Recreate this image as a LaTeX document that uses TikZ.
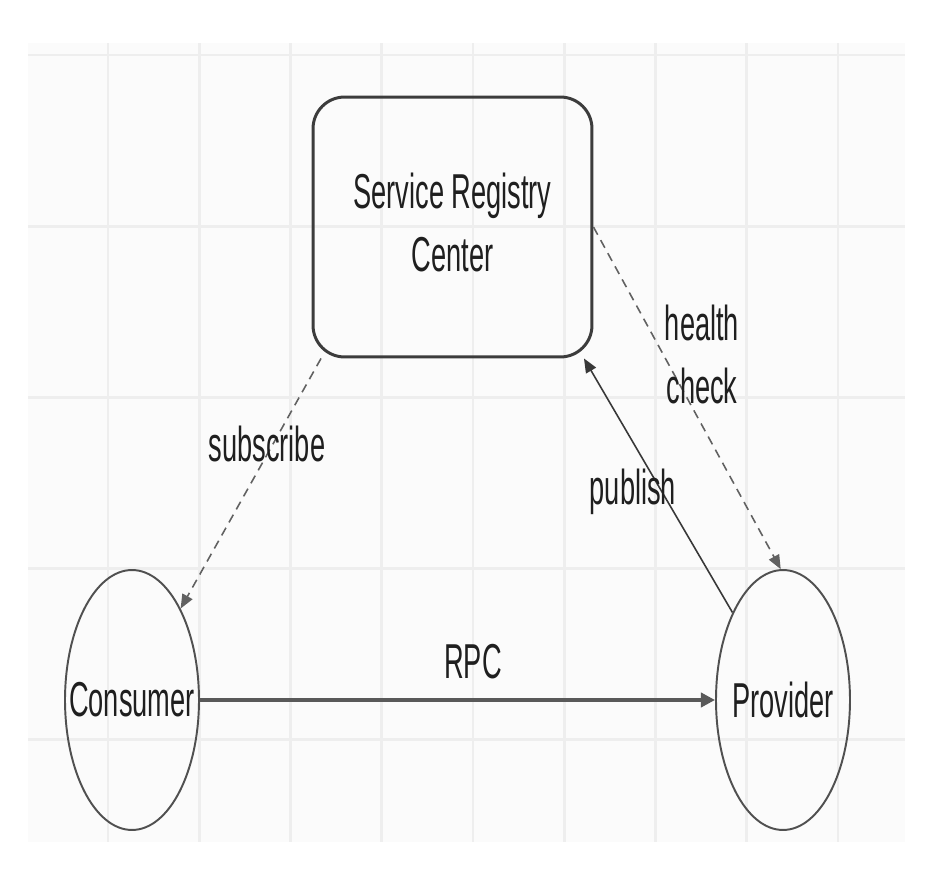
\documentclass[tikz,border=0pt]{standalone}
\usepackage{fontspec}
\setmainfont{Liberation Sans}
\usepackage{graphicx}
\usetikzlibrary{shapes.geometric, arrows.meta}
\definecolor{gridline}{RGB}{238,238,238}
\definecolor{gridfill}{RGB}{251,251,251}
\definecolor{edgegray}{RGB}{60,60,60}
\newcommand{\tallt}[1]{\scalebox{1}[1.8]{#1}}

\begin{document}
\begin{tikzpicture}[
    x=0.02cm, y=-0.02cm,
    regbox/.style={rectangle, rounded corners=18pt, draw=edgegray, line width=1.7pt, minimum width=5.58cm, minimum height=5.2cm, align=center, inner sep=0pt},
    peer/.style={ellipse, draw=edgegray!90, line width=1.1pt, minimum width=2.68cm, minimum height=5.2cm, inner sep=0pt},
    lbl/.style={font=\fontsize{15.5}{20}\selectfont, text=black!88},
    arr/.style={-{Triangle[length=8pt,width=6.5pt]}, line width=0.9pt, draw=black!78},
    dasharr/.style={arr, draw=black!62, dash pattern=on 5pt off 3.5pt},
    rpcarr/.style={-{Triangle[length=8pt,width=8pt]}, line width=2.6pt, draw=black!65}
]
\useasboundingbox (0,0) rectangle (934,885);

% ── Background grid ──
\fill[gridfill] (28,43) rectangle (905,842);
\foreach \i in {0,...,8}
    \draw[gridline, line width=1.6pt] ({108+91.25*\i},43) -- ({108+91.25*\i},842);
\foreach \j in {0,...,4}
    \draw[gridline, line width=1.6pt] (28,{55+171.2*\j}) -- (905,{55+171.2*\j});

% ── Registry ──
\node[regbox, lbl] (reg) at (452.5,227) {\tallt{\begin{tabular}{@{}c@{}}Service Registry\\Center\end{tabular}}};

% ── Peers ──
\node[peer, lbl] (con) at (132,700) {\tallt{\makebox[0pt]{Consumer}}};
\node[peer, lbl] (prov) at (783,700) {\tallt{\makebox[0pt]{Provider}}};

% Arrows
\draw[dasharr] (reg.225) -- (con.62);
\draw[dasharr] (reg.east) -- (prov.91);
\draw[arr] (prov.120) -- (reg.315);
\draw[rpcarr] (con.east) -- (prov.west);

% Labels
\node[lbl] (subl) at (267,444) {\tallt{subscribe}};
\node[lbl] (hcl) at (702,359) {\tallt{\begin{tabular}{@{}c@{}}health\\check\end{tabular}}};
\node[lbl] (publ) at (633,492) {\tallt{publish}};
\node[lbl] (rpcl) at (473,662) {\tallt{RPC}};

\end{tikzpicture}
\end{document}
